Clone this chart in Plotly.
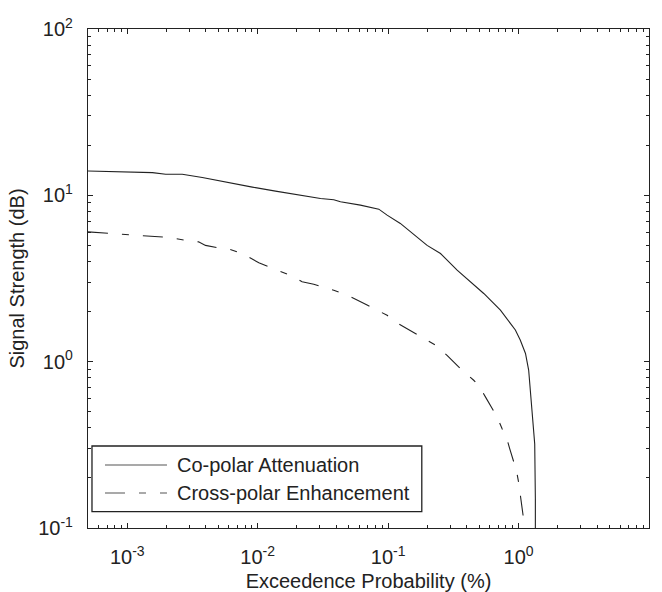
import plotly.graph_objects as go

# Co-polar attenuation (solid)
co_x = [5e-4, 7.2e-4, 1.03e-3, 1.56e-3, 1.97e-3, 2.64e-3, 3.76e-3, 6.0e-3, 9.1e-3,
        0.0137, 0.0219, 0.0303, 0.0383, 0.0431, 0.0613, 0.0848, 0.0982, 0.124,
        0.199, 0.252, 0.338, 0.541, 0.726, 0.917, 0.945, 1.03, 1.13, 1.195,
        1.23, 1.27, 1.305, 1.33, 1.345, 1.345]
co_y = [14.0, 13.9, 13.7, 13.7, 13.4, 13.4, 12.8, 11.9, 11.2,
        10.6, 10.0, 9.57, 9.4, 9.14, 8.73, 8.26, 7.6, 6.78,
        5.0, 4.47, 3.55, 2.57, 2.04, 1.62, 1.55, 1.35, 1.12, 0.89,
        0.67, 0.53, 0.40, 0.32, 0.15, 0.05]

# Cross-polar enhancement (dash-dot)
xp_x = [5e-4, 7.2e-4, 1.22e-3, 1.46e-3, 2.08e-3, 2.80e-3, 3.52e-3, 3.98e-3, 5.19e-3,
        5.97e-3, 7.60e-3, 0.0102, 0.0133, 0.0154, 0.0189, 0.0219, 0.0269, 0.0383,
        0.0485, 0.0690, 0.0873, 0.0982, 0.120, 0.167, 0.211, 0.230, 0.283, 0.309,
        0.369, 0.453, 0.494, 0.557, 0.684, 0.748, 0.807, 0.855, 0.962, 1.00,
        1.03, 1.06, 1.13, 1.16]
xp_y = [6.03, 5.9, 5.74, 5.7, 5.58, 5.37, 5.25, 5.0, 4.81,
        4.77, 4.47, 3.93, 3.63, 3.47, 3.24, 3.02, 2.92, 2.69,
        2.51, 2.19, 1.99, 1.90, 1.69, 1.46, 1.31, 1.26, 1.09, 1.02,
        0.887, 0.773, 0.72, 0.614, 0.465, 0.395, 0.352, 0.30, 0.222, 0.189,
        0.161, 0.137, 0.10, 0.08]

series_names = ["Co-polar Attenuation", "Cross-polar Enhancement"]

x_decades = [-4, -3, -2, -1, 0, 1]
y_decades = [-1, 0, 1, 2]
x_tickvals = [1e-3, 1e-2, 1e-1, 1, 10]
x_ticktext = ["10<sup>-3</sup>", "10<sup>-2</sup>", "10<sup>-1</sup>", "10<sup>0</sup>", "10<sup>1</sup>"]
y_tickvals = [0.1, 1, 10, 100]
y_ticktext = ["10<sup>-1</sup>", "10<sup>0</sup>", "10<sup>1</sup>", "10<sup>2</sup>"]

x_minor = [m * 10.0 ** d for d in x_decades for m in range(2, 10)]
y_minor = [m * 10.0 ** d for d in y_decades for m in range(2, 10)]

FONT = "Liberation Sans, Arial, sans-serif"
INK = "#222222"
DASH = "20px,14px,7px,14px"

fig = go.Figure()
fig.add_trace(go.Scatter(x=co_x, y=co_y, mode="lines", name=series_names[0],
                         line=dict(color=INK, width=1.1), showlegend=False))
fig.add_trace(go.Scatter(x=xp_x, y=xp_y, mode="lines", name=series_names[1],
                         line=dict(color=INK, width=1.1, dash=DASH), showlegend=False))

axis_common = dict(
    type="log", showgrid=False, zeroline=False, automargin=False,
    showline=True, linecolor=INK, linewidth=1.3, mirror="ticks",
    ticks="inside", ticklen=5, tickcolor=INK, tickwidth=1,
    tickfont=dict(family=FONT, size=20, color=INK),
)

fig.update_xaxes(**axis_common, range=[-3.301, 1], tickvals=x_tickvals, ticktext=x_ticktext,
                 ticklabelstandoff=11,
                 minor=dict(ticks="inside", ticklen=3, tickcolor=INK, tickwidth=1,
                            showgrid=False, tickvals=x_minor),
                 title=dict(text="Exceedence Probability (%)", standoff=9,
                            font=dict(family=FONT, size=20, color=INK)))
fig.update_yaxes(**axis_common, range=[-1, 2], tickvals=y_tickvals, ticktext=y_ticktext,
                 ticklabelstandoff=10,
                 minor=dict(ticks="inside", ticklen=3, tickcolor=INK, tickwidth=1,
                            showgrid=False, tickvals=y_minor),
                 title=dict(text="Signal Strength (dB)", standoff=8,
                            font=dict(family=FONT, size=20, color=INK)))

# Legend box drawn in paper coordinates (matches the reference's long line samples)
lx0, lx1, ly0, ly1 = 0.0071, 0.595, 0.0327, 0.1643
line_x0, line_x1, text_x = 0.0303, 0.1408, 0.1551
row_y = [0.1263, 0.0701]
row_dash = ["solid", DASH]

fig.add_shape(type="rect", xref="paper", yref="paper", x0=lx0, x1=lx1, y0=ly0, y1=ly1,
              line=dict(color=INK, width=1.3), fillcolor="white", layer="above")
for name, yy, dsh in zip(series_names, row_y, row_dash):
    fig.add_shape(type="line", xref="paper", yref="paper", x0=line_x0, x1=line_x1, y0=yy, y1=yy,
                  line=dict(color="#555555", width=1.1, dash=dsh), layer="above")
    fig.add_annotation(xref="paper", yref="paper", x=text_x, y=yy, text=name, showarrow=False,
                       xanchor="left", yanchor="middle",
                       font=dict(family=FONT, size=20, color=INK))

fig.update_layout(
    width=662, height=592,
    margin=dict(l=88, r=13, t=29, b=64),
    paper_bgcolor="white", plot_bgcolor="white",
    font=dict(family=FONT, size=20, color=INK),
    showlegend=False,
)

fig.write_html("out.html", config={"displayModeBar": False},
               post_script="document.body.style.margin='0px';")
